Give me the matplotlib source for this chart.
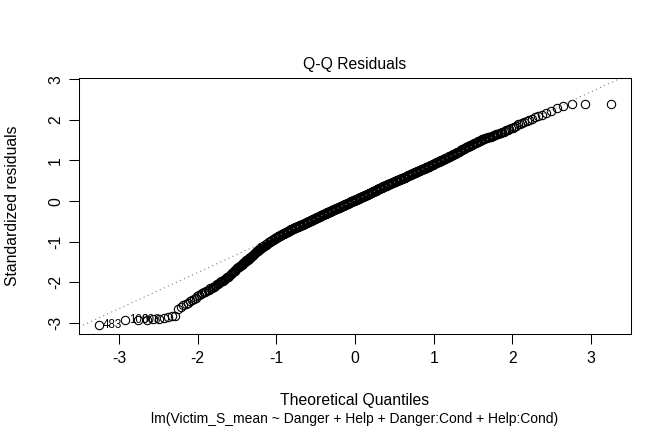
import numpy as np
import matplotlib
matplotlib.use("Agg")
import matplotlib.pyplot as plt
from statistics import NormalDist

# Sorted standardized residuals (lowest to highest)
resid_sorted = [
    -3.04, -2.93, -2.92, -2.92, -2.91, -2.90, -2.87, -2.85, -2.83, -2.82,
    -2.66, -2.60, -2.57, -2.54, -2.50, -2.47, -2.44, -2.41, -2.38, -2.34,
    -2.31, -2.29, -2.27, -2.25, -2.23, -2.22, -2.20, -2.18, -2.15, -2.13,
    -2.12, -2.11, -2.09, -2.07, -2.05, -2.04, -2.02, -2.00, -1.98, -1.97,
    -1.96, -1.94, -1.92, -1.90, -1.88, -1.87, -1.86, -1.84, -1.82, -1.80,
    -1.78, -1.76, -1.75, -1.73, -1.71, -1.70, -1.68, -1.66,
    -1.65, -1.63, -1.62, -1.61, -1.59, -1.58, -1.57, -1.55, -1.54, -1.53, -1.51, -1.50,
    -1.49, -1.48, -1.46, -1.45, -1.44, -1.43, -1.42, -1.40, -1.39, -1.38,
    -1.37, -1.36, -1.35, -1.33, -1.32, -1.31, -1.30, -1.29, -1.27, -1.26,
    -1.25, -1.24, -1.23, -1.22, -1.21, -1.20, -1.19, -1.18, -1.17, -1.16,
    -1.15, -1.14, -1.14, -1.13, -1.12, -1.11, -1.11, -1.10, -1.09, -1.08,
    -1.08, -1.07, -1.06, -1.05, -1.05, -1.04, -1.03, -1.02, -1.02, -1.01,
    -1.00, -1.00, -0.99, -0.98, -0.98, -0.97, -0.97, -0.96, -0.95, -0.95,
    -0.94, -0.94, -0.93, -0.92, -0.92, -0.91, -0.91, -0.90,
    -0.89, -0.89, -0.88, -0.88, -0.87, -0.87, -0.86, -0.86, -0.85, -0.85,
    -0.84, -0.84, -0.83, -0.83, -0.82, -0.82, -0.81, -0.81, -0.80, -0.80,
    -0.79, -0.79,
    -0.78, -0.78, -0.78, -0.77, -0.77, -0.76, -0.76, -0.76, -0.75, -0.75,
    -0.74, -0.74, -0.74, -0.73, -0.73, -0.72, -0.72, -0.72, -0.71, -0.71,
    -0.70, -0.70, -0.70, -0.69, -0.69, -0.69, -0.68, -0.68, -0.67, -0.67,
    -0.67, -0.66, -0.66, -0.66, -0.65, -0.65, -0.65, -0.64, -0.64, -0.64,
    -0.63, -0.63, -0.63, -0.62, -0.62, -0.62, -0.61, -0.61, -0.61, -0.60,
    -0.60, -0.60, -0.59, -0.59, -0.59, -0.58, -0.58, -0.58, -0.58, -0.57,
    -0.57, -0.57, -0.56, -0.56, -0.56,
    -0.55, -0.55, -0.55, -0.54, -0.54, -0.54, -0.53, -0.53, -0.53, -0.52,
    -0.52, -0.52, -0.51, -0.51, -0.51, -0.50, -0.50, -0.50, -0.50, -0.49,
    -0.49, -0.49, -0.48, -0.48, -0.48,
    -0.47, -0.47, -0.47, -0.46, -0.46, -0.46, -0.45, -0.45, -0.45, -0.44,
    -0.44, -0.44, -0.43, -0.43, -0.43, -0.42, -0.42, -0.42, -0.42, -0.41,
    -0.41, -0.41, -0.40, -0.40, -0.40,
    -0.40, -0.39, -0.39, -0.39, -0.38, -0.38, -0.38, -0.37, -0.37, -0.37,
    -0.37, -0.36, -0.36, -0.36, -0.35, -0.35, -0.35, -0.35, -0.34, -0.34,
    -0.34, -0.34, -0.33, -0.33, -0.33,
    -0.33, -0.32, -0.32, -0.32, -0.31, -0.31, -0.31, -0.30, -0.30, -0.30,
    -0.30, -0.29, -0.29, -0.29, -0.28, -0.28, -0.28, -0.28, -0.27, -0.27,
    -0.27, -0.27, -0.26, -0.26, -0.26,
    -0.26, -0.25, -0.25, -0.25, -0.24, -0.24, -0.24, -0.23, -0.23, -0.23,
    -0.23, -0.22, -0.22, -0.22, -0.21, -0.21, -0.21, -0.21, -0.20, -0.20,
    -0.20, -0.20, -0.19, -0.19, -0.19,
    -0.19, -0.18, -0.18, -0.18, -0.18, -0.17, -0.17, -0.17, -0.17, -0.16,
    -0.16, -0.16, -0.16, -0.15, -0.15, -0.15, -0.15, -0.14, -0.14, -0.14,
    -0.14, -0.13, -0.13, -0.13, -0.13,
    -0.12, -0.12, -0.12, -0.11, -0.11, -0.11, -0.11, -0.10, -0.10, -0.10,
    -0.10, -0.09, -0.09, -0.09, -0.08, -0.08, -0.08, -0.08, -0.07, -0.07,
    -0.07, -0.07, -0.06, -0.06, -0.06,
    -0.06, -0.05, -0.05, -0.05, -0.05, -0.04, -0.04, -0.04, -0.04, -0.03,
    -0.03, -0.03, -0.03, -0.02, -0.02, -0.02, -0.02, -0.01, -0.01, -0.01,
    -0.01, 0.00, 0.00, 0.00, 0.00,
    0.01, 0.01, 0.01, 0.01, 0.02, 0.02, 0.02, 0.02,
    0.02, 0.02, 0.03, 0.03, 0.03, 0.03, 0.04, 0.04, 0.04,
    0.04, 0.05, 0.05, 0.05, 0.06, 0.06, 0.06, 0.07, 0.07, 0.07,
    0.07, 0.08, 0.08, 0.08, 0.09, 0.09, 0.09, 0.09, 0.10, 0.10,
    0.10, 0.10, 0.11, 0.11, 0.11,
    0.11, 0.12, 0.12, 0.12, 0.12, 0.13, 0.13, 0.13, 0.13, 0.14,
    0.14, 0.14, 0.14, 0.15, 0.15, 0.15, 0.15, 0.16, 0.16, 0.16,
    0.16, 0.17, 0.17, 0.17, 0.17,
    0.18, 0.18, 0.18, 0.19, 0.19, 0.19, 0.20, 0.20, 0.20, 0.20,
    0.21, 0.21, 0.21, 0.22, 0.22, 0.22, 0.22, 0.23, 0.23, 0.23,
    0.23, 0.24, 0.24, 0.24, 0.24,
    0.25, 0.25, 0.25, 0.26, 0.26, 0.26, 0.27, 0.27, 0.27, 0.27,
    0.28, 0.28, 0.28, 0.29, 0.29, 0.29, 0.29, 0.30, 0.30, 0.30,
    0.30, 0.31, 0.31, 0.31, 0.31,
    0.32, 0.32, 0.32, 0.33, 0.33, 0.33, 0.34, 0.34, 0.34, 0.34,
    0.35, 0.35, 0.35, 0.36, 0.36, 0.36, 0.36, 0.37, 0.37, 0.37,
    0.37, 0.38, 0.38, 0.38, 0.38,
    0.39, 0.39, 0.39, 0.40, 0.40, 0.40, 0.41, 0.41, 0.41, 0.41,
    0.42, 0.42, 0.42, 0.43, 0.43, 0.43, 0.43, 0.44, 0.44, 0.44,
    0.44, 0.45, 0.45, 0.45, 0.45,
    0.46, 0.46, 0.46, 0.47, 0.47, 0.47, 0.48, 0.48, 0.48, 0.48,
    0.49, 0.49, 0.49, 0.50, 0.50, 0.50, 0.50, 0.51, 0.51, 0.51,
    0.51, 0.52, 0.52, 0.52, 0.52,
    0.53, 0.53, 0.53, 0.54, 0.54, 0.54, 0.55, 0.55, 0.55, 0.55,
    0.56, 0.56, 0.56, 0.57, 0.57, 0.57, 0.57, 0.58, 0.58, 0.58,
    0.58, 0.59, 0.59, 0.59, 0.59,
    0.60, 0.60, 0.61, 0.61, 0.61, 0.62, 0.62, 0.62, 0.63, 0.63,
    0.63, 0.64, 0.64, 0.64, 0.65, 0.65, 0.65, 0.66, 0.66, 0.66,
    0.67, 0.67, 0.67, 0.68, 0.68,
    0.68, 0.69, 0.69, 0.69, 0.70, 0.70, 0.70, 0.71, 0.71, 0.71,
    0.72, 0.72, 0.72, 0.73, 0.73, 0.73, 0.74, 0.74, 0.74, 0.75,
    0.75, 0.76, 0.76, 0.76, 0.77, 0.77, 0.77, 0.78, 0.78, 0.78,
    0.79, 0.79, 0.79, 0.80, 0.80, 0.80, 0.81, 0.81, 0.81, 0.82,
    0.82, 0.83, 0.83, 0.84, 0.84, 0.84, 0.85, 0.85, 0.86, 0.86,
    0.86, 0.87, 0.87, 0.88, 0.88, 0.88, 0.89, 0.89, 0.90, 0.90,
    0.91, 0.91, 0.92, 0.92, 0.93, 0.93, 0.94, 0.94, 0.94, 0.95,
    0.95, 0.96, 0.96, 0.97, 0.97, 0.97, 0.98, 0.98, 0.99, 0.99,
    1.00, 1.00, 1.01, 1.01, 1.02, 1.02, 1.03, 1.03, 1.04, 1.04,
    1.05, 1.06, 1.06, 1.07, 1.07, 1.08, 1.08, 1.09, 1.09, 1.10,
    1.11, 1.11, 1.12, 1.12, 1.13, 1.14, 1.14, 1.15, 1.15, 1.16,
    1.17, 1.17, 1.18, 1.19, 1.19, 1.20, 1.21, 1.21, 1.22, 1.23,
    1.24, 1.25, 1.25, 1.26, 1.27, 1.28, 1.28, 1.29, 1.30, 1.31,
    1.32, 1.33, 1.33, 1.34, 1.35, 1.36, 1.36, 1.37, 1.38, 1.39,
    1.40, 1.41, 1.42, 1.43, 1.43, 1.44, 1.45, 1.46, 1.47, 1.48,
    1.49, 1.50, 1.51, 1.52, 1.53, 1.54, 1.55, 1.55, 1.56, 1.57,
    1.58, 1.59, 1.59, 1.60, 1.61, 1.62, 1.63, 1.64, 1.65, 1.66,
    1.67, 1.68, 1.69, 1.70, 1.72, 1.74, 1.75, 1.77, 1.79, 1.81,
    1.83, 1.86, 1.89, 1.91, 1.93, 1.95, 1.97, 2.00, 2.03, 2.06,
    2.09, 2.12, 2.17, 2.22, 2.29, 2.34, 2.38, 2.39, 2.39,
]

# Observation ids shown for the three most extreme residuals (lowest first)
extreme_ids = ["483", "100", "608"]

title_text = "Q-Q Residuals"
x_label = "Theoretical Quantiles"
y_label = "Standardized residuals"
model_caption = "lm(Victim_S_mean ~ Danger + Help + Danger:Cond + Help:Cond)"
x_ticks = [-3, -2, -1, 0, 1, 2, 3]
y_ticks = [-3, -2, -1, 0, 1, 2, 3]

plt.rcParams["font.family"] = ["Liberation Sans", "DejaVu Sans"]
FS = 11.3

r = np.array(resid_sorted)
n = len(r)
nd = NormalDist()
theo = np.array([nd.inv_cdf((i - 0.5) / n) for i in range(1, n + 1)])

W, H = 672, 432
fig = plt.figure(figsize=(W / 100, H / 100), dpi=100)
L, R, T, B = 79, 631, 78, 334
ax = fig.add_axes([L / W, 1 - B / H, (R - L) / W, (B - T) / H])

ax.plot(theo, r, linestyle="none", marker="o", mfc="none", mec="black",
        ms=6.0, mew=0.8)

# reference line through the quartiles (as qqline)
q1, q3 = np.quantile(r, [0.25, 0.75])
z1, z3 = nd.inv_cdf(0.25), nd.inv_cdf(0.75)
slope = (q3 - q1) / (z3 - z1)
icpt = q1 - slope * z1
ax.axline((0, icpt), slope=slope, color="#7f7f7f", lw=0.8,
          linestyle=(0, (1, 3)))

# label the extreme points
order = np.argsort(-np.abs(r))[:3]
order = sorted(order, key=lambda k: r[k])
for k, lab in zip(order, extreme_ids):
    ax.annotate(lab, (theo[k], r[k]), xytext=(2.6, 0), textcoords="offset points",
                ha="left", va="center", fontsize=8.3)

# limits as R computes them
xr = theo.max() - theo.min()
ax.set_xlim(theo.min() - 0.04 * xr, theo.max() + 0.04 * xr)
ylo, yhi = r.min(), r.max()
yhi = yhi + (yhi - ylo) * 0.075
yr = yhi - ylo
ax.set_ylim(ylo - 0.04 * yr, yhi + 0.04 * yr)

ax.set_xticks(x_ticks)
ax.set_xticklabels([str(v) for v in x_ticks])
ax.set_yticks(y_ticks)
ax.set_yticklabels([str(v) for v in y_ticks], rotation=90, va="center")
ax.tick_params(direction="out", length=6.9, width=0.75, labelsize=FS, color="black")
ax.tick_params(axis="x", pad=5.5)
ax.tick_params(axis="y", pad=4.5)
for s in ax.spines.values():
    s.set_linewidth(0.75)
    s.set_color("black")

fig.text(355 / W, 1 - 64 / H, title_text, ha="center", va="center", fontsize=FS)
fig.text(355 / W, 1 - 401 / H, x_label, ha="center", va="center", fontsize=FS)
fig.text(355 / W, 1 - 419 / H, model_caption, ha="center", va="center", fontsize=10.0)
fig.text(13 / W, 1 - 206 / H, y_label, ha="center", va="center", rotation=90, fontsize=FS)

fig.savefig("out.png", dpi=100)
